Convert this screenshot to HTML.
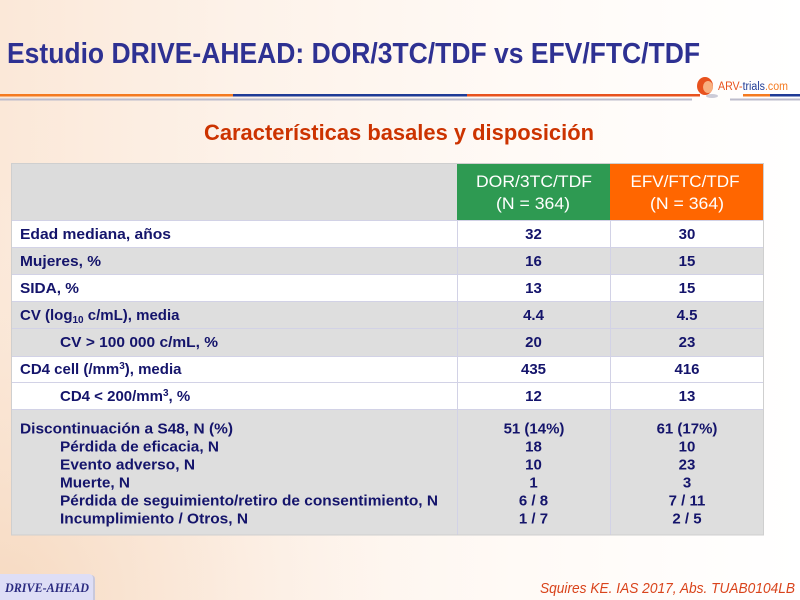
<!DOCTYPE html>
<html><head><meta charset="utf-8">
<style>
html,body{margin:0;padding:0;width:800px;height:600px;overflow:hidden;background:#fff;}
svg{display:block;}
</style></head>
<body>
<svg width="800" height="600" viewBox="0 0 800 600" xmlns="http://www.w3.org/2000/svg" font-family="Liberation Sans, Arial, sans-serif">
<defs>
<linearGradient id="bg" x1="0" y1="0" x2="1" y2="0">
<stop offset="0" stop-color="#fbe8d8"/>
<stop offset="0.3" stop-color="#fdf2e9"/>
<stop offset="0.65" stop-color="#fffaf6"/>
<stop offset="1" stop-color="#ffffff"/>
</linearGradient>
<radialGradient id="bgr" cx="0" cy="600" r="420" gradientUnits="userSpaceOnUse">
<stop offset="0" stop-color="#f5d6bb" stop-opacity="0.8"/>
<stop offset="0.5" stop-color="#f8e0cc" stop-opacity="0.4"/>
<stop offset="1" stop-color="#fdf2e9" stop-opacity="0"/>
</radialGradient>
</defs>
<rect width="800" height="600" fill="url(#bg)"/>
<rect width="800" height="600" fill="url(#bgr)"/>

<!-- Title -->
<text x="7" y="63" font-size="29" font-weight="bold" fill="#2e3192" textLength="693" lengthAdjust="spacingAndGlyphs">Estudio DRIVE-AHEAD: DOR/3TC/TDF vs EFV/FTC/TDF</text>

<!-- header lines -->
<rect x="0" y="94" width="233" height="2.5" fill="#f47a20"/>
<rect x="233" y="94" width="234" height="2.5" fill="#1f3b96"/>
<rect x="467" y="94" width="233" height="2.5" fill="#e8521e"/>
<rect x="743" y="94" width="27" height="2.5" fill="#f47a20"/>
<rect x="770" y="94" width="30" height="2.5" fill="#1f3b96"/>
<rect x="0" y="98.5" width="692" height="2" fill="#bcbccc"/>
<rect x="730" y="98.5" width="70" height="2" fill="#bcbccc"/>

<!-- logo -->
<g>
<ellipse cx="705" cy="86" rx="8" ry="9" fill="#e8521e"/>
<ellipse cx="708" cy="87" rx="5" ry="6" fill="#f8b080"/>
<ellipse cx="712" cy="96" rx="6" ry="2" fill="#ccccd8"/>
<text x="718" y="90" font-size="11.5" textLength="70" lengthAdjust="spacingAndGlyphs"><tspan fill="#e8521e">ARV-</tspan><tspan fill="#1f3b96">trials</tspan><tspan fill="#f47a20">.com</tspan></text>
</g>

<!-- Subtitle -->
<text x="204" y="140" font-size="22" font-weight="bold" fill="#cc3300" textLength="390" lengthAdjust="spacingAndGlyphs">Características basales y disposición</text>

<!-- Table backgrounds -->
<rect x="11" y="163" width="446" height="57" fill="#dcdcdc"/>
<rect x="457" y="163" width="153" height="57" fill="#2e9a52"/>
<rect x="610" y="163" width="154" height="57" fill="#ff6600"/>
<rect x="11" y="220" width="753" height="27" fill="#ffffff"/>
<rect x="11" y="247" width="753" height="27" fill="#dedede"/>
<rect x="11" y="274" width="753" height="27" fill="#ffffff"/>
<rect x="11" y="301" width="753" height="55" fill="#dedede"/>
<rect x="11" y="356" width="753" height="53" fill="#ffffff"/>
<rect x="11" y="409" width="753" height="126" fill="#dedede"/>

<!-- grid lines -->
<g stroke="#d2d2e6" stroke-width="1">
<line x1="11" y1="220.5" x2="764" y2="220.5"/>
<line x1="11" y1="247.5" x2="764" y2="247.5"/>
<line x1="11" y1="274.5" x2="764" y2="274.5"/>
<line x1="11" y1="301.5" x2="764" y2="301.5"/>
<line x1="11" y1="328.5" x2="764" y2="328.5"/>
<line x1="11" y1="356.5" x2="764" y2="356.5"/>
<line x1="11" y1="382.5" x2="764" y2="382.5"/>
<line x1="11" y1="409.5" x2="764" y2="409.5"/>
<line x1="457.5" y1="220" x2="457.5" y2="535"/>
<line x1="610.5" y1="220" x2="610.5" y2="535"/>
</g>
<rect x="11.5" y="163.5" width="752" height="371.5" fill="none" stroke="#cfcfcf" stroke-width="1"/>

<!-- header text -->
<g fill="#ffffff" font-size="17" text-anchor="middle">
<text x="534" y="187" textLength="116" lengthAdjust="spacingAndGlyphs">DOR/3TC/TDF</text>
<text x="533" y="209" textLength="74" lengthAdjust="spacingAndGlyphs">(N = 364)</text>
<text x="685" y="187" textLength="109" lengthAdjust="spacingAndGlyphs">EFV/FTC/TDF</text>
<text x="687" y="209" textLength="74" lengthAdjust="spacingAndGlyphs">(N = 364)</text>
</g>

<!-- row labels -->
<g fill="#14146b" font-size="15" font-weight="bold">
<text x="20" y="239" textLength="151" lengthAdjust="spacingAndGlyphs">Edad mediana, años</text>
<text x="20" y="266" textLength="81" lengthAdjust="spacingAndGlyphs">Mujeres, %</text>
<text x="20" y="293" textLength="59" lengthAdjust="spacingAndGlyphs">SIDA, %</text>
<text x="20" y="320">CV (log<tspan font-size="10" dy="3">10</tspan><tspan dy="-3"> c/mL), media</tspan></text>
<text x="60" y="347" textLength="158" lengthAdjust="spacingAndGlyphs">CV &gt; 100 000 c/mL, %</text>
<text x="20" y="374">CD4 cell (/mm<tspan font-size="10" dy="-5">3</tspan><tspan dy="5">), media</tspan></text>
<text x="60" y="401">CD4 &lt; 200/mm<tspan font-size="10" dy="-5">3</tspan><tspan dy="5">, %</tspan></text>
<text x="20" y="433.5" textLength="213" lengthAdjust="spacingAndGlyphs">Discontinuación a S48, N (%)</text>
<text x="60" y="451.5" textLength="159" lengthAdjust="spacingAndGlyphs">Pérdida de eficacia, N</text>
<text x="60" y="469.5" textLength="135" lengthAdjust="spacingAndGlyphs">Evento adverso, N</text>
<text x="60" y="487.5" textLength="70" lengthAdjust="spacingAndGlyphs">Muerte, N</text>
<text x="60" y="505.5" textLength="378" lengthAdjust="spacingAndGlyphs">Pérdida de seguimiento/retiro de consentimiento, N</text>
<text x="60" y="523.5" textLength="188" lengthAdjust="spacingAndGlyphs">Incumplimiento / Otros, N</text>
</g>

<!-- values -->
<g fill="#14146b" font-size="15" font-weight="bold" text-anchor="middle">
<text x="533.5" y="239">32</text><text x="687" y="239">30</text>
<text x="533.5" y="266">16</text><text x="687" y="266">15</text>
<text x="533.5" y="293">13</text><text x="687" y="293">15</text>
<text x="533.5" y="320">4.4</text><text x="687" y="320">4.5</text>
<text x="533.5" y="347">20</text><text x="687" y="347">23</text>
<text x="533.5" y="374">435</text><text x="687" y="374">416</text>
<text x="533.5" y="401">12</text><text x="687" y="401">13</text>
<text x="534" y="433.5">51 (14%)</text><text x="687" y="433.5">61 (17%)</text>
<text x="533.5" y="451.5">18</text><text x="687" y="451.5">10</text>
<text x="533.5" y="469.5">10</text><text x="687" y="469.5">23</text>
<text x="533.5" y="487.5">1</text><text x="687" y="487.5">3</text>
<text x="533.5" y="505.5">6 / 8</text><text x="687" y="505.5">7 / 11</text>
<text x="533.5" y="523.5">1 / 7</text><text x="687" y="523.5">2 / 5</text>
</g>

<!-- footer box -->
<rect x="-4" y="575" width="99" height="30" rx="4" fill="#c8c8dc"/>
<rect x="-4" y="574" width="97" height="30" rx="4" fill="#dedef6"/>
<text x="5" y="592" font-family="Liberation Serif, serif" font-size="13" font-weight="bold" font-style="italic" fill="#2b2b80" textLength="84" lengthAdjust="spacingAndGlyphs">DRIVE-AHEAD</text>

<!-- reference -->
<text x="540" y="593" font-size="15" font-style="italic" fill="#d9441c" textLength="255" lengthAdjust="spacingAndGlyphs">Squires KE. IAS  2017, Abs. TUAB0104LB</text>
</svg>
</body></html>
